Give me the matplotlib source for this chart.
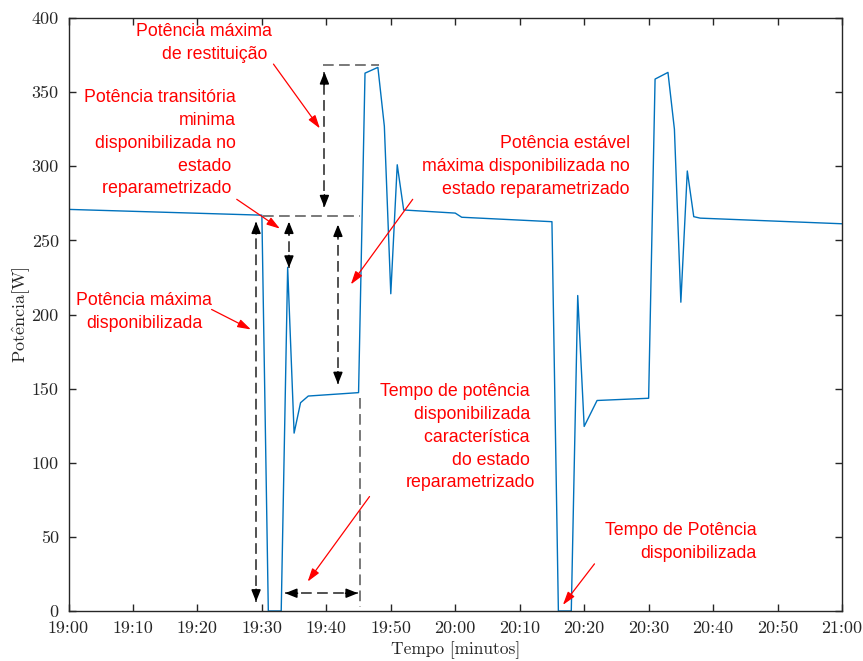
import numpy as np
import matplotlib
matplotlib.use('Agg')
import matplotlib.pyplot as plt

plt.rcParams['mathtext.fontset'] = 'cm'

# power curve, minutes after 19:00 vs watts
t_min = [0, 30, 31, 33, 34, 35, 36, 37.2, 45, 46, 48, 49, 50, 51, 52, 60, 61,
         75, 76, 78, 79, 80, 82, 90, 91, 93, 94, 95, 96, 97, 98, 120]
p_w = [270.9, 267.0, 0, 0, 231.8, 120, 140.5, 145, 147.3, 362.8, 366.7, 327, 214, 301,
       270.5, 268.4, 265.6, 262.6, 0, 0, 212.8, 124.5, 142, 143.5, 358.8, 363.3, 325,
       208.3, 296.8, 266, 265, 261.2]

xticks = [0, 10, 20, 30, 40, 50, 60, 70, 80, 90, 100, 110, 120]
xlabels = ['19:00', '19:10', '19:20', '19:30', '19:40', '19:50', '20:00',
           '20:10', '20:20', '20:30', '20:40', '20:50', '21:00']
yticks = [0, 50, 100, 150, 200, 250, 300, 350, 400]

# plain dashed guide lines: (x0, y0, x1, y1)
guides = [(39.5, 368.4, 48.2, 368.4),
          (30.2, 266.4, 45.3, 266.4),
          (45.3, 143.7, 45.3, 2.5)]
# dashed double arrows: (x0, y0, x1, y1)
darrows = [(29.1, 6.3, 29.1, 262.7),
           (34.2, 231.5, 34.2, 262.7),
           (41.8, 153.0, 41.8, 260.7),
           (39.7, 272.3, 39.7, 363.5),
           (33.6, 12.0, 44.9, 12.0)]

# red notes: text, anchor x, anchor y, align, arrow tail, arrow head
notes = [
    ('Potência máxima\nde restituição ', 31.6, 383, 'right', (31.8, 368.9), (39.0, 325.5)),
    ('Potência transitória\nminima\ndisponibilizada no\nestado \nreparametrizado ', 26.0, 315.5,
     'right', (26.1, 277.7), (32.8, 257.9)),
    ('Potência máxima\ndisponibilizada', 11.75, 201.7, 'center', (22.2, 203.4), (28.3, 189.9)),
    ('Potência estável\nmáxima disponibilizada no\nestado reparametrizado', 87.1, 300,
     'right', (53.4, 277.7), (43.8, 220.3)),
    ('Tempo de potência \ndisponibilizada \ncaracterística \ndo estado \nreparametrizado', 72.35, 117.2,
     'right', (46.7, 77.2), (37.1, 19.8)),
    ('Tempo de Potência\ndisponibilizada', 106.8, 46.3, 'right', (81.6, 31.8), (76.7, 4.1)),
]

fig = plt.figure(figsize=(8.63, 6.61), dpi=100)
ax = fig.add_axes([68.5 / 863, 1 - 611 / 661, (842 - 68.5) / 863, (611 - 18) / 661])

ax.plot(t_min, p_w, color='#0072BD', lw=1.0)

for x0, y0, x1, y1 in guides:
    ax.plot([x0, x1], [y0, y1], color='#555555', lw=1.1, dashes=(7, 3.5))

for x0, y0, x1, y1 in darrows:
    ax.plot([x0, x1], [y0, y1], color='#222222', lw=1.1, dashes=(7, 3.5))
    if x0 == x1:
        ends = [((x0, y0), (0, 9)), ((x1, y1), (0, -9))]
    else:
        ends = [((x0, y0), (9, 0)), ((x1, y1), (-9, 0))]
    for tip, off in ends:
        ax.annotate('', xy=tip, xytext=off, textcoords='offset points',
                    arrowprops=dict(arrowstyle='-|>,head_length=0.7,head_width=0.28',
                                    color='black', lw=1.1, shrinkA=0, shrinkB=0))

for txt, tx, ty, ha, tail, head in notes:
    ax.text(tx, ty, txt, color='red', fontsize=12.8, family='Liberation Sans',
            ha=ha, va='center', multialignment=ha, linespacing=1.45)
    ax.annotate('', xy=head, xytext=tail,
                arrowprops=dict(arrowstyle='-|>,head_length=0.8,head_width=0.25',
                                color='red', lw=0.9, shrinkA=0, shrinkB=0))

ax.set_xlim(0, 120)
ax.set_ylim(0, 400)
ax.set_xticks(xticks)
ax.set_xticklabels(xlabels)
ax.set_yticks(yticks)
ax.tick_params(direction='in', length=5, width=1, top=True, right=True,
               colors='#262626', labelsize=13, pad=7)
for lab in ax.get_xticklabels() + ax.get_yticklabels():
    lab.set_family('cmr10')
for s in ax.spines.values():
    s.set_color('#262626')
    s.set_linewidth(1.0)

ax.set_xlabel('Tempo [minutos]', family='cmr10', fontsize=12.5, color='#262626', labelpad=4)
ax.set_ylabel(r'$\mathrm{Pot\hat{e}ncia[W]}$', fontsize=13, color='#262626', labelpad=0)

fig.savefig('out.png', dpi=100)
